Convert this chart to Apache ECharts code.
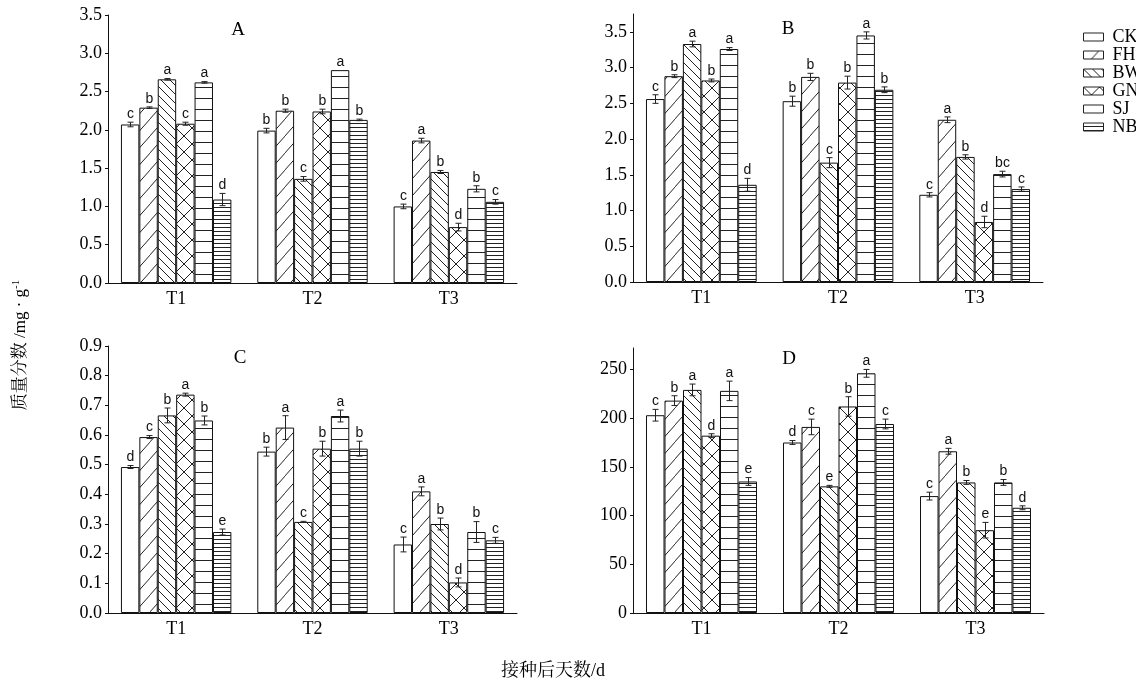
<!DOCTYPE html>
<html><head><meta charset="utf-8">
<script src="https://cdn.jsdelivr.net/npm/echarts@6/dist/echarts.min.js"></script>
<style>html,body{margin:0;padding:0;background:#fff}#c{width:1136px;height:683px}</style>
</head><body><div id="c"></div>
<script>
// ---------- data ----------
const categories = ['T1', 'T2', 'T3'];
const seriesNames = ['CK', 'FH', 'BW', 'GN', 'SJ', 'NB'];
const panelLabels = ['A', 'B', 'C', 'D'];

// rows: CK, FH, BW, GN, SJ, NB ; columns: T1, T2, T3
const meansA = [[2.07,1.99,1.00],[2.29,2.25,1.86],[2.66,1.36,1.45],[2.08,2.24,0.73],[2.62,2.78,1.23],[1.09,2.13,1.06]];
const errorsA = [[0.03,0.03,0.03],[0.01,0.02,0.03],[0.01,0.03,0.02],[0.02,0.03,0.05],[0.01,0,0.04],[0.08,0.01,0.03]];
const lettersA = [['c','b','c'],['b','b','a'],['a','c','b'],['c','b','d'],['a','a','b'],['d','b','c']];

const meansB = [[2.56,2.53,1.22],[2.88,2.87,2.27],[3.33,1.67,1.75],[2.82,2.79,0.84],[3.26,3.45,1.51],[1.36,2.69,1.30]];
const errorsB = [[0.06,0.07,0.03],[0.02,0.05,0.04],[0.04,0.07,0.03],[0.02,0.09,0.08],[0.02,0.05,0.04],[0.09,0.04,0.03]];
const lettersB = [['c','b','c'],['b','b','a'],['a','c','b'],['b','b','d'],['a','a','bc'],['d','b','c']];

const meansC = [[0.492,0.544,0.231],[0.593,0.625,0.410],[0.666,0.307,0.300],[0.736,0.554,0.103],[0.649,0.664,0.273],[0.273,0.554,0.245]];
const errorsC = [[0.005,0.015,0.025],[0.005,0.04,0.015],[0.025,0.002,0.02],[0.005,0.025,0.015],[0.015,0.02,0.035],[0.01,0.025,0.01]];
const lettersC = [['d','b','c'],['c','a','a'],['b','c','b'],['a','b','d'],['b','a','b'],['e','b','c']];

const meansD = [[203,175,120],[218,191,166],[229,130,134],[182,212,85],[228,246,134],[135,194,108]];
const errorsD = [[6,2,4],[5,8,3],[6,1,2],[2,10,8],[10,4,3],[4,5,2]];
const lettersD = [['c','d','c'],['b','c','a'],['a','e','b'],['d','b','e'],['a','a','b'],['e','c','d']];

const yMaxes = [3.5, 3.75, 0.9, 272];
const yIntervals = [0.5, 0.5, 0.1, 50];
const yDecimals = [1, 1, 1, 0];

// ---------- patterns ----------
function makePattern(kind) {
  if (kind === 'blank') return '#ffffff';
  const c = document.createElement('canvas');
  let w = 16, h = 16;
  if (kind === 'fwd') { w = 15; h = 17; }
  if (kind === 'back') { w = 9; h = 9; }
  if (kind === 'hl') { w = 4; h = 11; }
  if (kind === 'hd') { w = 4; h = 4; }
  c.width = w; c.height = h;
  const g = c.getContext('2d');
  g.fillStyle = '#fff'; g.fillRect(0, 0, w, h);
  g.strokeStyle = '#222'; g.lineWidth = 1;
  g.beginPath();
  if (kind === 'fwd' || kind === 'cross') {
    g.moveTo(-1, h + 1); g.lineTo(w + 1, -1);
  }
  if (kind === 'back' || kind === 'cross') {
    g.moveTo(-1, -1); g.lineTo(w + 1, h + 1);
  }
  if (kind === 'hl' || kind === 'hd') {
    g.moveTo(0, h - 0.5); g.lineTo(w, h - 0.5);
  }
  g.stroke();
  return { image: c, repeat: 'repeat' };
}
const patterns = ['blank', 'fwd', 'back', 'cross', 'hl', 'hd'].map(makePattern);

// ---------- layout ----------
const grids = [
  { left: 108, top: 15, width: 409, height: 268 },
  { left: 633, top: 14, width: 410, height: 268 },
  { left: 108, top: 346, width: 409, height: 267 },
  { left: 633, top: 348, width: 411, height: 265 }
];
const panelLabelPos = [[238, 30], [788, 29], [240, 358], [789, 359]];

const allMeans = [meansA, meansB, meansC, meansD];
const allErrors = [errorsA, errorsB, errorsC, errorsD];
const allLetters = [lettersA, lettersB, lettersC, lettersD];

const serif = 'Liberation Serif, "Times New Roman", serif';
const CAT_GAP = 0.19;

const xAxes = [], yAxes = [], series = [], graphics = [];
grids.forEach((gd, p) => {
  xAxes.push({
    type: 'category', gridIndex: p, data: categories,
    axisLine: { lineStyle: { color: '#111', width: 1 } },
    axisTick: { show: false },
    axisLabel: { fontFamily: serif, fontSize: 18, color: '#000', margin: 7 }
  });
  const ticks = [];
  const nT = Math.floor(yMaxes[p] / yIntervals[p] + 1e-9);
  for (let k = 0; k <= nT; k++) ticks.push(+(k * yIntervals[p]).toFixed(4));
  yAxes.push({
    type: 'value', gridIndex: p, min: 0, max: yMaxes[p], interval: yIntervals[p],
    axisLine: { show: true, lineStyle: { color: '#111', width: 1 } },
    axisTick: { show: true, length: 3, customValues: ticks, lineStyle: { color: '#111' } },
    splitLine: { show: false },
    axisLabel: {
      customValues: ticks,
      fontFamily: serif, fontSize: 18, color: '#000', margin: 6,
      formatter: v => v.toFixed(yDecimals[p])
    }
  });
  seriesNames.forEach((nm, i) => {
    series.push({
      type: 'bar', name: nm, xAxisIndex: p, yAxisIndex: p,
      data: allMeans[p][i],
      barGap: '0%', barCategoryGap: (CAT_GAP * 100) + '%',
      itemStyle: { color: patterns[i], borderColor: '#111', borderWidth: 1 },
      emphasis: { disabled: true }, animation: false
    });
  });
  const errData = [];
  for (let c = 0; c < categories.length; c++) {
    for (let i = 0; i < seriesNames.length; i++) {
      errData.push([c, i, allMeans[p][i][c], allErrors[p][i][c]]);
    }
  }
  const letters = allLetters[p];
  series.push({
    type: 'custom', xAxisIndex: p, yAxisIndex: p, animation: false, silent: true, z: 5,
    encode: { x: 0, y: 2 },
    data: errData,
    renderItem: function (params, api) {
      const c = api.value(0), i = api.value(1), m = api.value(2), e = api.value(3);
      const band = api.size([1, 0])[0];
      const groupW = band * (1 - CAT_GAP);
      const bw = groupW / seriesNames.length;
      const center = api.coord([c, m]);
      const x = Math.round(center[0] - groupW / 2 + (i + 0.5) * bw) + 0.5;
      const yT = api.coord([c, m + e])[1];
      const yB = api.coord([c, m - e])[1];
      const cap = 3;
      const children = [];
      const ls = { stroke: '#222', lineWidth: 1 };
      if (e > 0) {
        children.push({ type: 'line', shape: { x1: x, y1: yB, x2: x, y2: yT }, style: ls });
        children.push({ type: 'line', shape: { x1: x - cap, y1: yT, x2: x + cap, y2: yT }, style: ls });
        children.push({ type: 'line', shape: { x1: x - cap, y1: yB, x2: x + cap, y2: yB }, style: ls });
      }
      children.push({
        type: 'text', x: x, y: Math.min(yT, api.coord([c, m])[1]) - 1,
        style: { text: letters[i][c], align: 'center', verticalAlign: 'bottom',
                 fontFamily: 'Liberation Sans, Arial, sans-serif', fontSize: 14, fill: '#111' }
      });
      return { type: 'group', children: children };
    }
  });
  graphics.push({
    type: 'text', x: panelLabelPos[p][0], y: panelLabelPos[p][1],
    style: { text: panelLabels[p], align: 'center', verticalAlign: 'middle',
             fontFamily: serif, fontSize: 19, fill: '#000' }
  });
});

graphics.push({
  type: 'text', x: 21, y: 345, rotation: Math.PI / 2,
  style: {
    text: '质量分数 /mg · g{s|-1}', align: 'center', verticalAlign: 'middle',
    fontFamily: 'Liberation Serif, "Noto Serif CJK SC", "Noto Sans CJK SC", serif', fontSize: 17, fill: '#000',
    rich: { s: { fontSize: 11, fontFamily: serif, padding: [0, 0, 9, 0], fill: '#000' } }
  }
});
graphics.push({
  type: 'text', x: 553, y: 671,
  style: { text: '接种后天数/d', align: 'center', verticalAlign: 'middle',
           fontFamily: 'Liberation Serif, "Noto Serif CJK SC", "Noto Sans CJK SC", serif', fontSize: 18, fill: '#000' }
});

const chart = echarts.init(document.getElementById('c'));
chart.setOption({
  animation: false,
  backgroundColor: '#fff',
  grid: grids,
  xAxis: xAxes,
  yAxis: yAxes,
  legend: {
    data: seriesNames, orient: 'vertical', left: 1078, top: 23,
    itemWidth: 20, itemHeight: 8, itemGap: 0, icon: 'rect',
    selectedMode: false,
    itemStyle: { borderColor: '#222', borderWidth: 1 },
    textStyle: { fontFamily: serif, fontSize: 18, color: '#000', lineHeight: 18, padding: [0, 0, 0, 4] }
  },
  series: series,
  graphic: graphics
});
</script>
</body></html>
